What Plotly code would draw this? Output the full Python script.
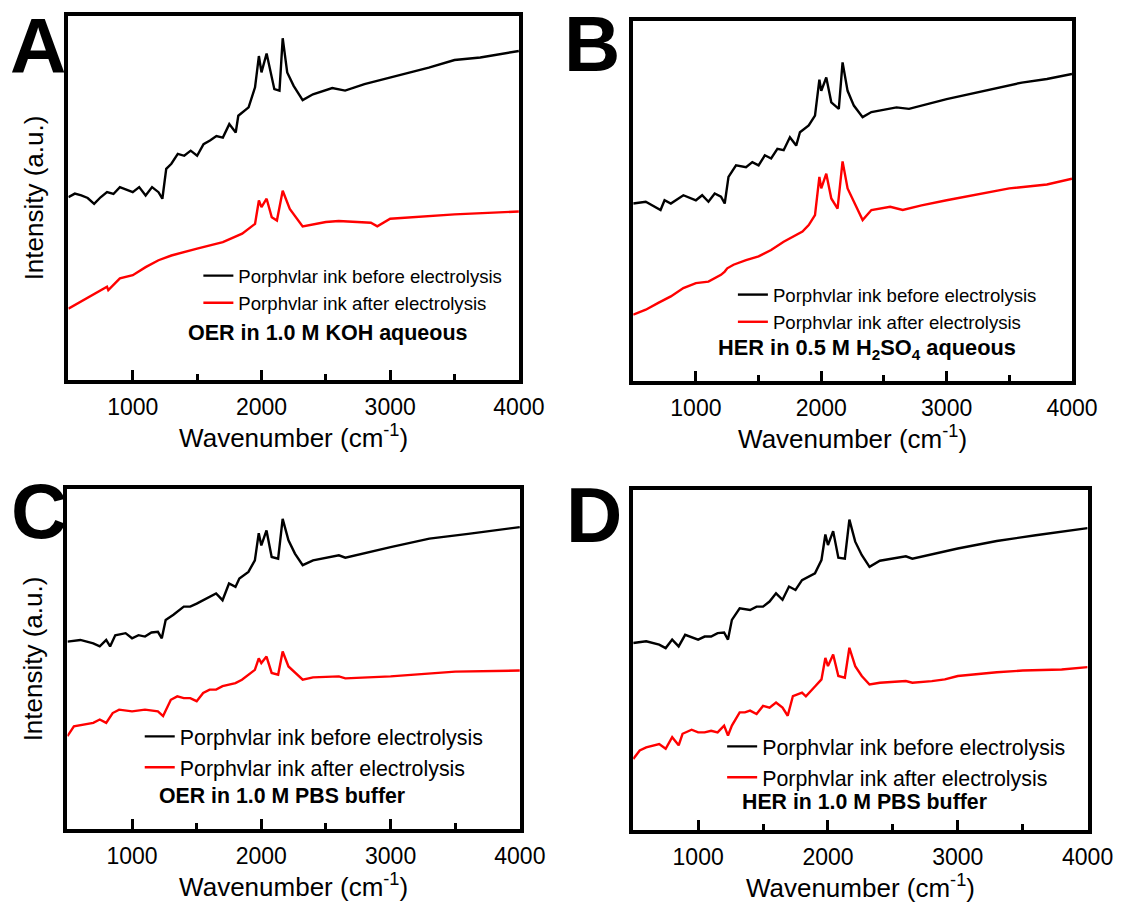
import plotly.graph_objects as go

# ---- spectra (wavenumber in cm^-1, intensity in arbitrary units) ----
a_before_x = [500, 550, 600, 650, 700, 750, 800, 850, 900, 950, 1000, 1050, 1100, 1150, 1200, 1230, 1260, 1300,
              1350, 1400, 1450, 1500, 1550, 1600, 1650, 1700, 1750, 1800, 1820, 1900, 1950, 1980, 2000, 2040,
              2100, 2140, 2165, 2200, 2250, 2320, 2400, 2550, 2650, 2800, 3000, 3300, 3500, 3700, 4000]
a_before_y = [50.2, 51.2, 50.7, 50.0, 48.4, 50.2, 51.6, 51.1, 53.0, 52.3, 51.6, 53.0, 50.7, 53.0, 51.6, 49.8, 58.0,
              59.4, 62.1, 61.6, 63.0, 61.6, 64.8, 65.8, 67.0, 66.6, 70.3, 68.0, 72.6, 74.9, 80.4, 89.0, 84.5,
              89.7, 79.9, 79.5, 93.9, 84.5, 80.8, 76.9, 78.5, 80.2, 79.5, 81.3, 83.1, 85.8, 87.9, 88.6, 90.4]
a_after_x = [500, 700, 800, 810, 900, 1000, 1100, 1200, 1300, 1500, 1700, 1850, 1950, 1980, 2000, 2040, 2080,
             2120, 2165, 2220, 2320, 2500, 2600, 2850, 2900, 3000, 3500, 4000]
a_after_y = [19.6, 23.7, 25.6, 24.7, 27.9, 28.8, 31.0, 32.9, 34.2, 36.1, 37.9, 40.2, 42.9, 49.3, 47.5, 49.8, 44.7,
             43.8, 52.0, 47.0, 42.2, 43.4, 43.7, 43.2, 42.2, 44.3, 45.5, 46.3]

b_before_x = [500, 600, 718, 750, 800, 900, 1000, 1050, 1100, 1150, 1200, 1230, 1260, 1320, 1400, 1450, 1500,
              1550, 1600, 1650, 1700, 1750, 1800, 1830, 1900, 1950, 1985, 2000, 2040, 2080, 2140, 2170, 2210,
              2260, 2330, 2400, 2600, 2700, 3000, 3300, 3600, 3800, 4000]
b_before_y = [49.3, 49.8, 47.5, 50.2, 49.3, 51.6, 50.2, 51.6, 49.8, 52.1, 51.2, 49.3, 56.7, 59.9, 59.4, 60.8, 59.9,
              62.7, 61.8, 64.5, 64.1, 67.7, 65.4, 69.1, 71.0, 73.7, 83.7, 80.6, 84.3, 77.4, 75.6, 88.5, 80.6,
              76.5, 73.3, 74.7, 76.0, 75.6, 78.3, 80.6, 82.9, 83.9, 85.3]
b_after_x = [500, 600, 700, 800, 900, 1000, 1100, 1200, 1230, 1250, 1300, 1400, 1500, 1600, 1700, 1800, 1850,
             1900, 1950, 1985, 2000, 2040, 2080, 2130, 2170, 2210, 2260, 2330, 2400, 2550, 2650, 2800, 3000,
             3300, 3500, 3800, 4000]
b_after_y = [18.4, 19.8, 21.7, 23.5, 25.8, 27.2, 27.6, 29.5, 30.4, 31.3, 32.3, 33.6, 34.6, 36.4, 38.7, 40.6, 41.5,
             43.3, 46.1, 56.7, 53.5, 57.6, 50.7, 47.9, 61.0, 53.5, 49.8, 44.7, 47.5, 48.4, 47.5, 48.8, 50.2,
             52.1, 53.5, 54.6, 56.2]

c_before_x = [500, 600, 700, 750, 800, 830, 870, 950, 1000, 1050, 1100, 1150, 1200, 1230, 1260, 1320, 1400,
              1450, 1500, 1550, 1600, 1650, 1700, 1750, 1800, 1830, 1900, 1950, 1980, 2000, 2040, 2080, 2130,
              2165, 2210, 2260, 2320, 2400, 2600, 2650, 3000, 3300, 3600, 4000]
c_before_y = [55.1, 55.6, 54.6, 53.7, 55.6, 53.7, 57.0, 57.6, 56.1, 57.0, 56.6, 57.8, 58.0, 56.1, 61.5, 63.0, 65.4,
              65.4, 66.3, 67.3, 68.3, 69.3, 67.3, 72.2, 71.2, 73.7, 75.6, 79.0, 87.0, 83.4, 87.8, 80.0, 79.5,
              91.2, 84.9, 81.0, 77.6, 79.0, 80.5, 79.8, 82.9, 85.4, 86.8, 88.8]
c_after_x = [500, 550, 700, 750, 800, 850, 900, 1000, 1100, 1200, 1240, 1300, 1350, 1400, 1450, 1500, 1550,
             1600, 1650, 1700, 1800, 1850, 1950, 1980, 2000, 2040, 2080, 2130, 2165, 2210, 2320, 2400, 2600,
             2650, 3000, 3500, 4000]
c_after_y = [27.3, 30.2, 31.2, 32.2, 31.2, 34.1, 35.1, 34.6, 35.1, 34.6, 33.2, 38.0, 39.0, 38.5, 38.5, 37.6, 40.0,
             41.0, 41.0, 42.0, 42.9, 43.9, 46.8, 50.2, 48.8, 50.7, 45.9, 45.4, 52.2, 47.8, 43.9, 44.6, 44.9,
             44.3, 44.9, 46.3, 46.6]

d_before_x = [500, 600, 700, 750, 800, 850, 900, 1000, 1050, 1100, 1150, 1200, 1230, 1260, 1320, 1400, 1450,
              1500, 1550, 1600, 1650, 1700, 1750, 1800, 1900, 1950, 1980, 2000, 2040, 2080, 2130, 2165, 2210,
              2260, 2320, 2400, 2600, 2650, 3000, 3300, 3600, 4000]
d_before_y = [55.0, 55.5, 54.5, 53.5, 56.0, 54.0, 57.4, 56.0, 56.9, 56.9, 57.9, 58.1, 56.0, 61.8, 65.2, 64.7, 65.7,
              65.7, 67.2, 69.6, 67.7, 71.6, 70.6, 73.5, 75.5, 79.4, 86.9, 83.8, 87.9, 80.1, 79.8, 91.3, 84.8,
              80.9, 77.4, 79.2, 80.5, 79.8, 82.8, 85.0, 86.7, 88.8]
d_after_x = [500, 550, 600, 700, 750, 800, 850, 880, 950, 1000, 1050, 1100, 1150, 1200, 1230, 1260, 1320, 1360,
             1400, 1450, 1500, 1550, 1600, 1650, 1690, 1730, 1800, 1830, 1900, 1950, 1980, 2000, 2040, 2080,
             2130, 2165, 2210, 2260, 2320, 2400, 2600, 2650, 2800, 2900, 3000, 3300, 3500, 3800, 4000]
d_after_y = [20.9, 23.4, 24.3, 25.3, 23.9, 27.3, 24.9, 28.3, 29.5, 28.7, 28.7, 29.2, 28.7, 30.7, 27.8, 30.7, 34.6,
             34.6, 35.1, 34.1, 36.5, 36.0, 37.5, 36.0, 33.6, 39.4, 40.4, 39.3, 42.2, 44.3, 50.6, 48.2, 51.6, 45.3,
             44.8, 53.6, 48.2, 45.3, 42.8, 43.3, 43.8, 43.3, 43.8, 44.3, 45.3, 46.4, 46.9, 47.2, 47.9]

label_before = "Porphvlar ink before electrolysis"
label_after = "Porphvlar ink after electrolysis"
conditions = ["OER in 1.0 M KOH aqueous",
              "HER in 0.5 M H<sub>2</sub>SO<sub>4</sub> aqueous",
              "OER in 1.0 M PBS buffer",
              "HER in 1.0 M PBS buffer"]
panel_letters = ["A", "B", "C", "D"]

FONT = "Liberation Sans, Arial, sans-serif"
W, H = 1140, 903

# panel frames in pixels: left, right, top, bottom
frames = [(70, 531, 16, 380), (648, 1097, 21, 381), (69, 532, 489, 829), (648, 1113, 490, 830)]
series = [(a_before_x, a_before_y, a_after_x, a_after_y),
          (b_before_x, b_before_y, b_after_x, b_after_y),
          (c_before_x, c_before_y, c_after_x, c_after_y),
          (d_before_x, d_before_y, d_after_x, d_after_y)]
# legend (left px, top px, font size) and condition label (x data, y data, font size)
legend_pos = [(203, 257, 18.6), (750, 276, 18.6), (143, 716, 21.4), (739, 726, 21.4)]
cond_pos = [(2519, 12.8, 21.5), (2363, 8.8, 21.8), (2163, 9.8, 21.3), (2284, 8.3, 21.3)]
letter_pos = [(39, 46), (606, 44), (40, 511), (608, 515)]

fig = go.Figure()
layout = dict(width=W, height=H, margin=dict(l=0, r=0, t=0, b=0),
              paper_bgcolor="white", plot_bgcolor="white",
              font=dict(family=FONT, color="black"), annotations=[])

for i in range(4):
    sfx = "" if i == 0 else str(i + 1)
    xa, ya = "x" + sfx, "y" + sfx
    leg = "legend" + sfx
    bx, by, ax_, ay = series[i]
    fig.add_trace(go.Scatter(x=bx, y=by, mode="lines", name=label_before,
                             line=dict(color="black", width=2.4), xaxis=xa, yaxis=ya, legend=leg))
    fig.add_trace(go.Scatter(x=ax_, y=ay, mode="lines", name=label_after,
                             line=dict(color="#ff0000", width=2.4), xaxis=xa, yaxis=ya, legend=leg))
    l, r, t, b = frames[i]
    layout["xaxis" + sfx] = dict(
        domain=[l / W, r / W], range=[500, 4000], anchor=ya,
        showline=True, linecolor="black", linewidth=3.5, mirror=True,
        showgrid=False, zeroline=False,
        tickvals=[1000, 2000, 3000, 4000], ticks="inside", ticklen=10, tickwidth=3, tickcolor="black",
        minor=dict(tickvals=[1500, 2500, 3500], ticks="inside", ticklen=6, tickwidth=3, tickcolor="black"),
        tickfont=dict(size=23, family=FONT), ticklabelstandoff=4,
        title=dict(text="Wavenumber (cm<sup>-1</sup>)", font=dict(size=26, family=FONT), standoff=3),
    )
    yax = dict(
        domain=[1 - b / H, 1 - t / H], range=[0, 100], anchor=xa,
        showline=True, linecolor="black", linewidth=3.5, mirror=True,
        showgrid=False, zeroline=False, showticklabels=False, ticks="",
    )
    if i in (0, 2):
        yax["title"] = dict(text="Intensity (a.u.)", font=dict(size=26, family=FONT), standoff=15)
    layout["yaxis" + sfx] = yax
    lx, ly, lfs = legend_pos[i]
    layout[leg] = dict(x=lx / W, y=1 - ly / H, xanchor="left", yanchor="top",
                       bgcolor="rgba(0,0,0,0)", borderwidth=0,
                       font=dict(size=lfs, family=FONT, color="black"),
                       tracegroupgap=0, itemwidth=30)
    cx, cy, cfs = cond_pos[i]
    layout["annotations"].append(dict(
        x=cx, y=cy, xref=xa, yref=ya, text="<b>" + conditions[i] + "</b>", showarrow=False,
        xanchor="center", yanchor="middle", font=dict(size=cfs, family=FONT, color="black")))
    px_, py_ = letter_pos[i]
    layout["annotations"].append(dict(
        x=px_ / W, y=1 - py_ / H, xref="paper", yref="paper", text="<b>" + panel_letters[i] + "</b>",
        showarrow=False, xanchor="center", yanchor="middle",
        font=dict(size=78, family=FONT, color="black")))

fig.update_layout(**layout)
fig.write_html("out.html")
